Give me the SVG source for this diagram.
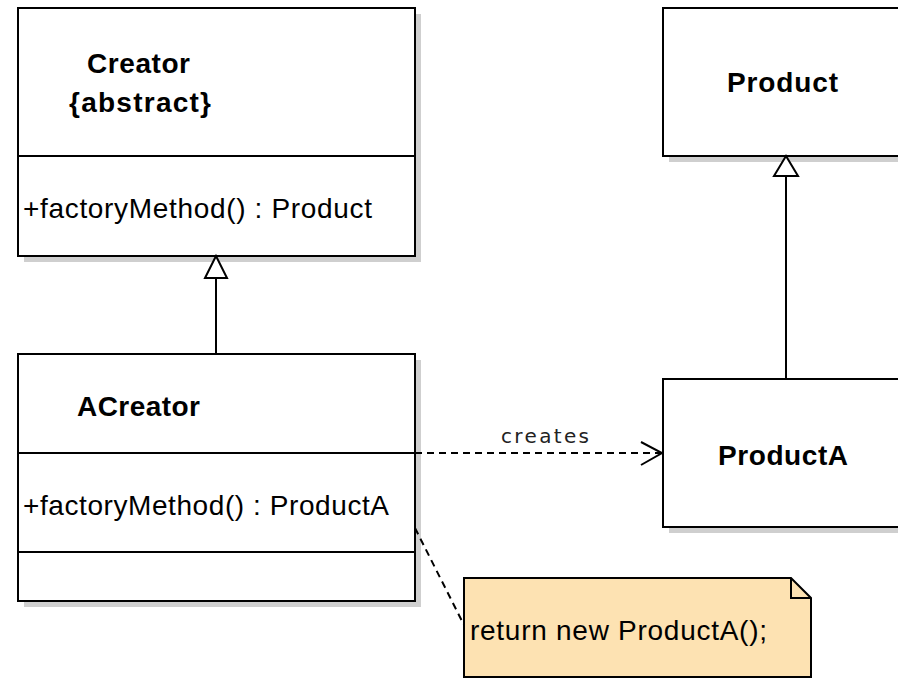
<svg xmlns="http://www.w3.org/2000/svg" width="898" height="678" viewBox="0 0 898 678">
<style>
.box{fill:#fff;stroke:#000;stroke-width:2}
.shadow{fill:#cfcfcf}
.div{stroke:#000;stroke-width:2}
.title{font-family:"Liberation Sans",Arial,sans-serif;font-weight:bold;font-size:28px;fill:#000}
.op{font-family:"Liberation Sans",Arial,sans-serif;font-size:28px;fill:#000}
.lbl{font-family:"DejaVu Sans",Verdana,sans-serif;font-size:20px;fill:#222}
.line{stroke:#000;stroke-width:2;fill:none}
.dash{stroke:#000;stroke-width:2;fill:none;stroke-dasharray:7,5}
.tri{fill:#fff;stroke:#000;stroke-width:2}
</style>
<rect width="898" height="678" fill="#fff"/>
<g id="Creator">
<rect class="shadow" x="24" y="14" width="397" height="248"/>
<rect class="box" x="18" y="8" width="397" height="248"/>
<line class="div" x1="18" y1="156" x2="415" y2="156"/>
<text class="title" x="87" y="73" textLength="103">Creator</text>
<text class="title" x="69" y="112" textLength="142">{abstract}</text>
<text class="op" x="23" y="218" textLength="349">+factoryMethod() : Product</text>
</g>
<g id="ACreator">
<rect class="shadow" x="24" y="360" width="397" height="247"/>
<rect class="box" x="18" y="354" width="397" height="247"/>
<line class="div" x1="18" y1="453" x2="415" y2="453"/>
<line class="div" x1="18" y1="552" x2="415" y2="552"/>
<text class="title" x="77" y="416" textLength="123">ACreator</text>
<text class="op" x="23" y="515" textLength="366">+factoryMethod() : ProductA</text>
</g>
<g id="Product">
<rect class="shadow" x="669" y="14" width="240" height="148"/>
<rect class="box" x="663" y="8" width="240" height="148"/>
<text class="title" x="727" y="92" textLength="111">Product</text>
</g>
<g id="ProductA">
<rect class="shadow" x="669" y="385" width="240" height="148"/>
<rect class="box" x="663" y="379" width="240" height="148"/>
<text class="title" x="718" y="465" textLength="130">ProductA</text>
</g>
<g id="Note">
<path d="M464,578 H791 L811,598 V677 H464 Z" fill="#fde2b2" stroke="#000" stroke-width="2"/>
<path d="M791,578 V598 H811" fill="none" stroke="#000" stroke-width="2"/>
<text class="op" x="470" y="640" textLength="297">return new ProductA();</text>
</g>
<g id="connectors">
<line class="line" x1="216" y1="354" x2="216" y2="278"/>
<polygon class="tri" points="216,256 205,278 227,278"/>
<line class="line" x1="786" y1="379" x2="786" y2="176"/>
<polygon class="tri" points="786,156 774,176 798,176"/>
<line class="dash" x1="415" y1="453" x2="661" y2="453"/>
<polyline class="line" points="641,442 662,453 641,465"/>
<text class="lbl" x="501" y="443" textLength="88">creates</text>
<line class="dash" x1="415" y1="528" x2="464" y2="625"/>
</g>
</svg>
